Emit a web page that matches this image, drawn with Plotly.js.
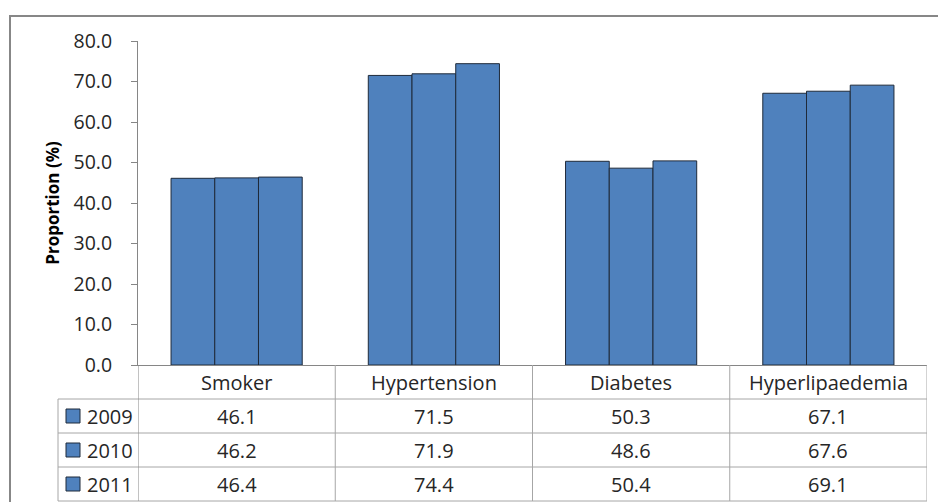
<!DOCTYPE html>
<html>
<head>
<meta charset="utf-8">
<script src="https://cdn.plot.ly/plotly-3.0.1.min.js"></script>
<style>html,body{margin:0;padding:0;background:#fff;}#chart{width:938px;height:502px;}</style>
</head>
<body>
<div id="chart"></div>
<script>
const categories = ['Smoker', 'Hypertension', 'Diabetes', 'Hyperlipaedemia'];
const years = ['2009', '2010', '2011'];
const v2009 = [46.1, 71.5, 50.3, 67.1];
const v2010 = [46.2, 71.9, 48.6, 67.6];
const v2011 = [46.4, 74.4, 50.4, 69.1];
const yTicks = [0, 10, 20, 30, 40, 50, 60, 70, 80];

const series = [v2009, v2010, v2011];
const BAR = '#4F81BD', EDGE = '#1F2A3A', AXIS = '#868686', GRID = '#A6A6A6', TXT = '#262626';
const FONT = 'Open Sans, Noto Sans, sans-serif';

const W = 938, H = 502, L = 138, R = 11, T = 41, B = 137;
const pw = W - L - R, ph = H - T - B;
const px = x => (x - L) / pw;          // pixel -> paper x
const py = y => (H - B - y) / ph;      // pixel -> paper y

const traces = series.map((vals, i) => ({
  type: 'bar', name: years[i], x: categories, y: vals,
  marker: { color: BAR, line: { color: EDGE, width: 1 } },
  hoverinfo: 'x+y+name'
}));

const rowH = 34, headTop = 365;
const rowTops = [headTop + rowH, headTop + 2 * rowH, headTop + 3 * rowH, headTop + 4 * rowH];
const shapes = [];
const annotations = [];
// horizontal table lines
rowTops.forEach(y => shapes.push({ type: 'line', xref: 'paper', yref: 'paper', x0: px(58), x1: 1, y0: py(y), y1: py(y), line: { color: GRID, width: 1 } }));
// vertical lines between categories and edges
[-0.5, 0.5, 1.5, 2.5, 3.5].forEach(x => shapes.push({ type: 'line', xref: 'x', yref: 'paper', x0: x, x1: x, y0: 0, y1: py(rowTops[3]), line: { color: x === -0.5 ? AXIS : GRID, width: 1 } }));
// legend column left border
shapes.push({ type: 'line', xref: 'paper', yref: 'paper', x0: px(58), x1: px(58), y0: py(rowTops[0]), y1: py(rowTops[3]), line: { color: GRID, width: 1 } });
// outer chart border
shapes.push({ type: 'rect', xref: 'paper', yref: 'paper', x0: px(10), x1: px(945), y0: py(16), y1: py(520), line: { color: '#878787', width: 2 }, fillcolor: 'rgba(0,0,0,0)' });

series.forEach((vals, i) => {
  const yc = py(headTop + rowH * (i + 1) + rowH / 2);
  shapes.push({ type: 'rect', xref: 'paper', yref: 'paper', x0: px(66), x1: px(80), y0: yc - 7 / ph, y1: yc + 7 / ph, fillcolor: BAR, line: { color: EDGE, width: 1 } });
  annotations.push({ xref: 'paper', yref: 'paper', x: px(85), y: yc, xanchor: 'left', yanchor: 'middle', text: years[i], showarrow: false, font: { family: FONT, size: 20, color: TXT } });
  vals.forEach((v, j) => annotations.push({ xref: 'x', yref: 'paper', x: categories[j], y: yc, xanchor: 'center', yanchor: 'middle', text: v.toFixed(1), showarrow: false, font: { family: FONT, size: 20, color: TXT } }));
});
categories.forEach(c => annotations.push({ xref: 'x', yref: 'paper', x: c, y: py(headTop + rowH / 2), xanchor: 'center', yanchor: 'middle', text: c, showarrow: false, font: { family: FONT, size: 20, color: TXT } }));

const layout = {
  width: W, height: H,
  margin: { l: L, r: R, t: T, b: B, pad: 0 },
  paper_bgcolor: '#fff', plot_bgcolor: '#fff',
  showlegend: false,
  barmode: 'group', bargap: 0.335, bargroupgap: 0,
  font: { family: FONT, color: TXT },
  xaxis: { type: 'category', range: [-0.5, 3.5], showticklabels: false, ticks: '', showline: true, linecolor: AXIS, linewidth: 1, showgrid: false, zeroline: false, fixedrange: true },
  yaxis: {
    range: [0, 80], tickvals: yTicks, ticktext: yTicks.map(v => v.toFixed(1)),
    ticks: 'outside', ticklen: 6, tickcolor: AXIS, tickwidth: 1,
    showline: true, linecolor: AXIS, linewidth: 1, showgrid: false, zeroline: false,
    tickfont: { family: FONT, size: 19.5, color: TXT }, ticklabelstandoff: 15,
    title: { text: 'Proportion (%)', font: { family: FONT, size: 17, color: '#000', weight: 'bold' }, standoff: 9 },
    automargin: false, fixedrange: true
  },
  shapes: shapes, annotations: annotations
};

Plotly.newPlot('chart', traces, layout, { displayModeBar: false, staticPlot: true });
</script>
</body>
</html>
